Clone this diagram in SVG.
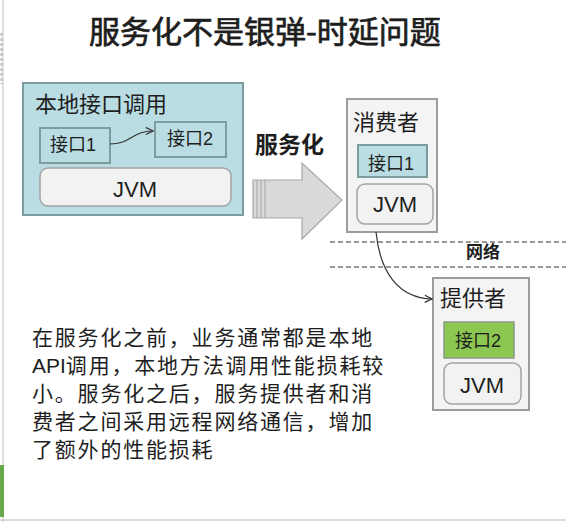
<svg xmlns="http://www.w3.org/2000/svg" width="566" height="522" viewBox="0 0 566 522">
<defs>
<style>
text{font-family:"Noto Sans CJK SC","Liberation Sans",sans-serif;fill:#1e1e1e}
.lat{font-family:"Liberation Sans","Noto Sans CJK SC",sans-serif}
.teal{fill:#b9dde2;stroke:#7e9c9e;stroke-width:2}
.cont{fill:#f4f4f4;stroke:#9c9c9c;stroke-width:2}
.jvm{fill:#f2f2f2;stroke:#a3a3a3;stroke-width:1.5}
.lbl{font-size:22px}
.if{font-size:18px}
.jv{font-size:22px;text-anchor:middle}
.conn{fill:none;stroke:#333;stroke-width:1.2}
.dash{stroke:#333;stroke-width:1;stroke-dasharray:5 3}
</style>
<marker id="open" viewBox="0 0 10 10" refX="9" refY="5" markerWidth="9" markerHeight="9" markerUnits="userSpaceOnUse" orient="auto">
<path d="M1,1 L9,5 L1,9" fill="none" stroke="#333" stroke-width="1.3"/>
</marker>
</defs>
<rect width="566" height="522" fill="#ffffff"/>
<line x1="3" y1="0" x2="3" y2="522" stroke="#d6d6d6" stroke-width="1.5"/>
<line x1="1.5" y1="33" x2="1.5" y2="84" stroke="#bbbbbb" stroke-width="2" stroke-dasharray="3 2"/>
<rect x="0" y="465" width="4" height="52" fill="#6aa84f"/>
<line x1="0" y1="520" x2="566" y2="520" stroke="#cfcfcf" stroke-width="1.5"/>

<text id="title" x="265" y="43" font-size="31" font-weight="normal" text-anchor="middle" stroke="#1e1e1e" stroke-width="0.7">服务化不是银弹-时延问题</text>

<g id="local">
<rect class="teal" x="23" y="83" width="220" height="132"/>
<text class="lbl" x="35" y="112">本地接口调用</text>
</g>
<g id="local-if1">
<rect class="teal" x="40" y="128" width="70" height="35"/>
<text class="if" x="50" y="151">接口<tspan class="lat">1</tspan></text>
</g>
<g id="local-if2">
<rect class="teal" x="155" y="122" width="71" height="35"/>
<text class="if" x="167" y="145">接口<tspan class="lat">2</tspan></text>
</g>
<g id="local-jvm">
<rect class="jvm" x="40" y="168" width="191" height="38" rx="8"/>
<text class="jv lat" x="135" y="197">JVM</text>
</g>

<g id="transform">
<path d="M253,180 L302,180 L302,163 L342,200 L302,239 L302,218 L253,218 Z" fill="#d9d9d9" stroke="#a8a8a8" stroke-width="1.2"/>
<line x1="257" y1="180" x2="257" y2="218" stroke="#a0a8a0" stroke-width="1"/>
<line x1="261" y1="180" x2="261" y2="218" stroke="#a0a8a0" stroke-width="1"/>
<line x1="265" y1="180" x2="265" y2="218" stroke="#a0a8a0" stroke-width="1"/>
<text x="255" y="153" font-size="23" font-weight="bold">服务化</text>
</g>

<g id="consumer">
<rect class="cont" x="347" y="99" width="90" height="133"/>
<text class="lbl" x="353" y="130">消费者</text>
</g>
<g id="consumer-if1">
<rect class="teal" x="358" y="145" width="69" height="32"/>
<text class="if" x="368" y="170">接口<tspan class="lat">1</tspan></text>
</g>
<g id="consumer-jvm">
<rect class="jvm" x="357" y="184" width="76" height="40" rx="8"/>
<text class="jv lat" x="395" y="212">JVM</text>
</g>

<g id="network">
<line class="dash" x1="330" y1="242" x2="566" y2="242"/>
<line class="dash" x1="330" y1="267" x2="566" y2="267"/>
<text x="466" y="258" font-size="17" font-weight="bold">网络</text>
</g>

<g id="provider">
<rect class="cont" x="433" y="278" width="96" height="132"/>
<text class="lbl" x="440" y="306">提供者</text>
</g>
<g id="provider-if2">
<rect x="444" y="322" width="70" height="36" fill="#8cc751" stroke="#8a9a86" stroke-width="1.5"/>
<text class="if" x="455" y="347">接口<tspan class="lat">2</tspan></text>
</g>
<g id="provider-jvm">
<rect class="jvm" x="444" y="363" width="77" height="41" rx="8"/>
<text class="jv lat" x="482" y="393">JVM</text>
</g>

<g id="connectors">
<path class="conn" d="M110,144 C131,144 132,131 153,131" marker-end="url(#open)"/>
<path class="conn" d="M376,232 C380,272 398,298 432,299" marker-end="url(#open)"/>
</g>

<g id="desc" font-size="21" letter-spacing="1.8">
<text x="32" y="345">在服务化之前，业务通常都是本地</text>
<text x="32" y="373"><tspan class="lat" letter-spacing="0">API</tspan>调用，本地方法调用性能损耗较</text>
<text x="32" y="401">小。服务化之后，服务提供者和消</text>
<text x="32" y="429">费者之间采用远程网络通信，增加</text>
<text x="32" y="457">了额外的性能损耗</text>
</g>
</svg>
